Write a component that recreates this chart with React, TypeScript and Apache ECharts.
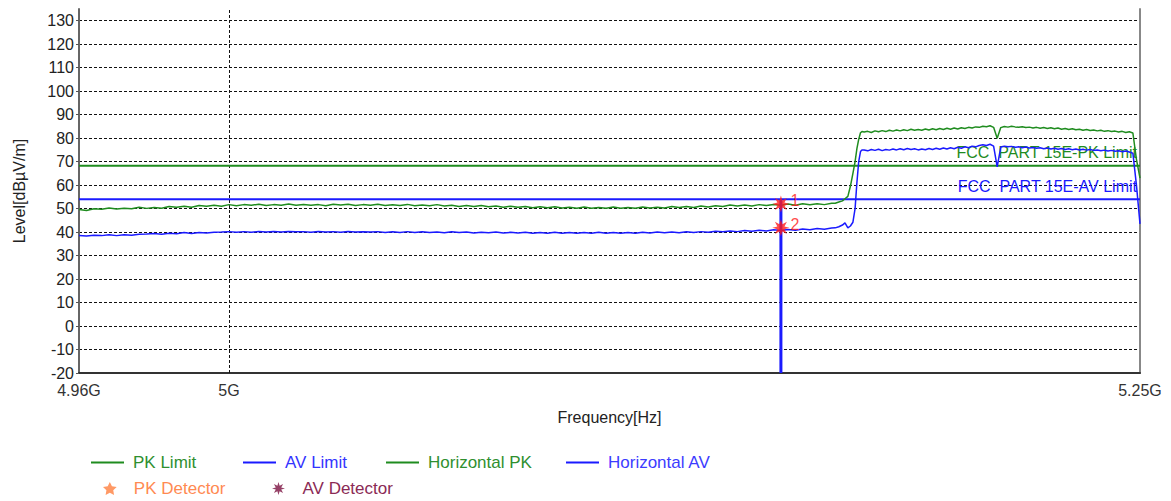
import React, { useEffect, useRef } from 'react';
import * as echarts from 'echarts';

// Frequencies in MHz shared by both measured traces
const freqMHz = [
  4960, 4962, 4964, 4966, 4968, 4970, 4972, 4974, 4976, 4978,
  4980, 4982, 4984, 4986, 4988, 4990, 4992, 4994, 4996, 4998,
  5000, 5002, 5004, 5006, 5008, 5010, 5012, 5014, 5016, 5018,
  5020, 5022, 5024, 5026, 5028, 5030, 5032, 5034, 5036, 5038,
  5040, 5042, 5044, 5046, 5048, 5050, 5052, 5054, 5056, 5058,
  5060, 5062, 5064, 5066, 5068, 5070, 5072, 5074, 5076, 5078,
  5080, 5082, 5084, 5086, 5088, 5090, 5092, 5094, 5096, 5098,
  5100, 5102, 5104, 5106, 5108, 5110, 5112, 5114, 5116, 5118,
  5120, 5122, 5124, 5126, 5128, 5130, 5132, 5134, 5136, 5138,
  5140, 5142, 5144, 5146, 5148, 5150, 5152, 5154, 5156, 5158,
  5160, 5162, 5164,
  5165, 5166, 5167, 5167.7, 5168.5, 5169.2, 5169.9, 5170.5, 5171, 5171.5, 5172, 5172.4,
  5173, 5174, 5175, 5176, 5177, 5178, 5179, 5180, 5181, 5182,
  5183, 5184, 5185, 5186, 5187, 5188, 5189, 5190, 5191, 5192,
  5193, 5194, 5195, 5196, 5197, 5198, 5199, 5200, 5201, 5202,
  5203, 5204, 5205, 5206, 5207, 5208, 5209, 5210, 5211, 5212,
  5213, 5214, 5215, 5216, 5217, 5218, 5219, 5220, 5221, 5222,
  5223, 5224, 5225, 5226, 5227, 5228, 5229, 5230, 5231, 5232,
  5233, 5234, 5235, 5236, 5237, 5238, 5239, 5240, 5241, 5242,
  5243, 5244, 5245, 5246, 5247, 5248, 5249, 5250,
];

const horizontalPK = [
  49.6, 49.2, 49.9, 49.7, 50.3, 49.8, 50.2, 49.9, 50.6, 50.1,
  50.5, 50.2, 50.9, 50.6, 51.0, 50.6, 51.3, 51.0, 51.4, 51.0,
  51.7, 51.2, 51.7, 51.4, 51.9, 51.3, 51.7, 51.4, 52.0, 51.4,
  51.8, 51.4, 51.7, 51.2, 51.9, 51.5, 51.9, 51.3, 51.7, 51.4,
  51.9, 51.3, 51.6, 51.3, 51.8, 51.2, 51.5, 51.2, 51.7, 51.1,
  51.4, 50.9, 51.3, 50.9, 51.3, 50.8, 51.1, 50.6, 51.0, 50.6,
  50.9, 50.4, 50.8, 50.4, 50.8, 50.3, 50.6, 50.2, 50.7, 50.2,
  50.5, 50.2, 50.7, 50.2, 50.5, 50.2, 50.7, 50.3, 50.6, 50.3,
  50.9, 50.5, 50.9, 50.5, 51.1, 50.7, 51.2, 50.9, 51.5, 51.1,
  51.5, 51.1, 51.7, 51.3, 51.8, 51.4, 52.0, 51.4, 52.1, 51.6,
  52.1, 51.7, 52.3,
  52.3, 52.8, 53.3, 54.2, 55.2, 59.5, 65.0, 70.0, 75.5, 79.5, 82.3, 82.8,
  82.6, 82.9, 82.4, 83.1, 82.7, 83.2, 82.8, 83.4, 83.0, 83.5,
  83.1, 83.6, 83.2, 83.8, 83.4, 83.7, 83.4, 83.9, 83.5, 84.0,
  83.6, 84.1, 83.7, 84.2, 83.8, 84.3, 83.9, 84.4, 84.1, 84.6,
  84.3, 84.8, 84.6, 85.1, 84.9, 85.3, 84.6, 80.0, 84.5, 85.0,
  84.7, 85.1, 84.8, 84.6, 84.9, 84.5, 84.7, 84.3, 84.6, 84.2,
  84.5, 84.1, 84.4, 84.0, 84.3, 83.8, 84.1, 83.7, 84.0, 83.6,
  83.8, 83.4, 83.7, 83.3, 83.5, 83.1, 83.4, 82.9, 83.2, 82.8,
  83.0, 82.6, 82.9, 82.4, 82.7, 82.2, 71.0, 63.0,
];

const horizontalAV = [
  38.6, 38.3, 38.7, 38.5, 38.9, 38.5, 38.9, 38.7, 39.1, 39.2,
  39.4, 39.1, 39.5, 39.3, 39.8, 39.4, 39.8, 39.6, 39.9, 40.0,
  40.2, 39.9, 40.2, 39.9, 40.3, 40.0, 40.3, 40.0, 40.3, 40.1,
  40.2, 39.9, 40.3, 40.0, 40.2, 39.9, 40.3, 40.0, 40.2, 40.0,
  40.2, 39.8, 40.1, 39.8, 40.2, 39.8, 40.1, 39.8, 40.0, 39.7,
  40.1, 39.8, 40.0, 39.6, 39.9, 39.7, 40.0, 39.6, 39.9, 39.6,
  39.9, 39.5, 39.8, 39.5, 39.9, 39.5, 39.8, 39.5, 39.8, 39.5,
  39.9, 39.5, 39.8, 39.5, 39.8, 39.5, 39.9, 39.6, 40.0, 39.7,
  40.0, 39.7, 40.1, 39.8, 40.2, 39.9, 40.4, 40.1, 40.5, 40.2,
  40.7, 40.4, 40.8, 40.5, 41.0, 40.7, 41.1, 40.8, 41.3, 41.0,
  41.5, 41.2, 41.7,
  41.8, 42.3, 43.0, 43.9, 41.8, 42.6, 44.2, 50.0, 61.0, 70.0, 74.3, 75.0,
  75.0, 74.6, 75.2, 74.8, 75.3, 74.7, 75.2, 74.9, 75.4, 75.0,
  75.5, 75.1, 75.6, 75.2, 75.5, 75.0, 75.4, 75.1, 75.6, 75.2,
  75.7, 75.3, 75.8, 75.4, 75.9, 75.5, 76.1, 75.7, 76.3, 75.9,
  76.6, 76.3, 76.9, 77.2, 76.9, 77.4, 76.6, 67.8, 76.2, 76.6,
  76.3, 76.5, 76.1, 76.3, 75.9, 76.2, 75.8, 76.0, 75.7, 75.9,
  75.5, 75.8, 75.4, 75.7, 75.3, 75.6, 75.2, 75.5, 75.1, 75.4,
  75.0, 75.3, 74.9, 75.2, 74.8, 75.0, 74.6, 74.9, 74.5, 74.8,
  74.4, 74.6, 74.2, 74.5, 74.1, 73.6, 60.0, 43.5,
];

const limitFreqMHz = [4960, 5250];
const pkLimit = [68.2, 68.2];
const avLimit = [54, 54];
const pkLimitLabel = 'FCC\u00a0\u00a0PART 15E-PK Limit';
const avLimitLabel = 'FCC\u00a0\u00a0PART 15E-AV Limit';

const markerFreqMHz = [5150];
const pkDetector = [52.0];
const avDetector = [41.8];
const markerLineLevels = [54, -20];

const xTickMHz = [4960, 5000, 5250];
const xTickLabels = ['4.96G', '5G', '5.25G'];
const gridLineMHz = [5000];
const yTicks = [-20, -10, 0, 10, 20, 30, 40, 50, 60, 70, 80, 90, 100, 110, 120, 130];

const GREEN = '#1f8c1f';
const BLUE = '#1a1aff';
const RED = '#ff1a1a';
const FONT = '"Liberation Sans", Arial, sans-serif';

const STAR8 =
  'path://M10,0L4.16,1.72L7.07,7.07L1.72,4.16L0,10L-1.72,4.16L-7.07,7.07L-4.16,1.72L-10,0L-4.16,-1.72L-7.07,-7.07L-1.72,-4.16L0,-10L1.72,-4.16L7.07,-7.07L4.16,-1.72Z';
const STAR5 =
  'path://M0,-10L2.94,-4.05L9.51,-3.09L4.76,1.55L5.88,8.09L0,5L-5.88,8.09L-4.76,1.55L-9.51,-3.09L-2.94,-4.05Z';

const lg = (f: number) => Math.log10(f);

function limitData(levels: number[], label: string, color: string) {
  return limitFreqMHz.map((f, i) => {
    const item: any = { value: [lg(f), levels[i]] };
    if (i === limitFreqMHz.length - 1) {
      item.label = {
        show: true,
        position: 'top',
        align: 'right',
        distance: 5,
        offset: [-3, 0],
        formatter: label,
        color,
        fontSize: 16,
        fontFamily: FONT,
      };
    }
    return item;
  });
}

export default function App() {
  const ref = useRef<HTMLDivElement>(null);

  useEffect(() => {
    if (!ref.current) return;
    const chart = echarts.init(ref.current, undefined, { renderer: 'svg' });

    const lineLegend = (name: string, left: number, color: string) => ({
      left,
      top: 454,
      padding: 0,
      itemGap: 0,
      itemWidth: 33,
      itemHeight: 2,
      icon: 'rect',
      selectedMode: false,
      textStyle: { fontSize: 17, fontFamily: FONT, color, padding: [0, 0, 0, 4] },
      data: [{ name }],
    });
    const starLegend = (name: string, left: number, icon: string, iconColor: string, color: string) => ({
      left,
      top: 480,
      padding: 0,
      itemGap: 0,
      itemWidth: 30,
      itemHeight: 13,
      selectedMode: false,
      textStyle: { fontSize: 17, fontFamily: FONT, color, padding: [0, 0, 0, 4] },
      data: [{ name, icon, itemStyle: { color: iconColor } }],
    });

    const option: any = {
      animation: false,
      backgroundColor: '#ffffff',
      textStyle: { fontFamily: FONT },
      grid: { left: 79, right: 31, top: 9, bottom: 128, containLabel: false, outerBoundsMode: 'none' },
      legend: [
        lineLegend('PK Limit', 91, '#2f8f2f'),
        lineLegend('AV Limit', 243, '#3434ff'),
        lineLegend('Horizontal PK', 386, '#2f8f2f'),
        lineLegend('Horizontal AV', 566, '#3c3cff'),
        starLegend('PK Detector', 103, STAR5, '#ff7f3f', '#ff8a52'),
        starLegend('AV Detector', 272, STAR8, '#7a1040', '#8b2a55'),
      ],
      xAxis: {
        type: 'value',
        min: lg(xTickMHz[0]),
        max: lg(xTickMHz[xTickMHz.length - 1]),
        name: 'Frequency[Hz]',
        nameLocation: 'middle',
        nameGap: 36,
        nameTextStyle: { fontSize: 16, color: '#222', fontFamily: FONT },
        axisLine: { show: true, onZero: false, lineStyle: { color: '#333', width: 2 } },
        axisTick: { show: false },
        axisLabel: {
          customValues: xTickMHz.map(lg),
          formatter: (v: number) => {
            const i = xTickMHz.findIndex((f) => Math.abs(lg(f) - v) < 1e-7);
            return i >= 0 ? xTickLabels[i] : '';
          },
          fontSize: 16,
          color: '#333',
          margin: 9,
          fontFamily: FONT,
        },
        splitLine: { show: false },
      },
      yAxis: [
        {
          type: 'value',
          min: -20,
          max: 135,
          interval: 10,
          name: 'Level[dBµV/m]',
          nameLocation: 'middle',
          nameGap: 52,
          nameTextStyle: { fontSize: 16, color: '#222', fontFamily: FONT },
          axisLine: { show: true, onZero: false, lineStyle: { color: '#666', width: 2 } },
          axisTick: { show: true, length: 3, customValues: yTicks, lineStyle: { color: '#555' } },
          axisLabel: {
            customValues: yTicks,
            fontSize: 16,
            color: '#222',
            margin: 5,
            fontFamily: FONT,
          },
          splitLine: {
            show: true,
            lineStyle: { color: '#111', type: [3, 2], width: 1 },
          },
        },
        {
          type: 'value',
          position: 'right',
          min: -20,
          max: 135,
          interval: 10,
          axisLine: { show: true, onZero: false, lineStyle: { color: '#888', width: 2 } },
          axisTick: { show: false },
          axisLabel: { show: false },
          splitLine: { show: false },
        },
      ],
      series: [
        {
          name: 'PK Limit',
          type: 'line',
          symbol: 'circle',
          symbolSize: 0,
          showSymbol: true,
          color: GREEN,
          lineStyle: { color: GREEN, width: 2 },
          data: limitData(pkLimit, pkLimitLabel, GREEN),
          z: 2,
        },
        {
          name: 'AV Limit',
          type: 'line',
          symbol: 'circle',
          symbolSize: 0,
          showSymbol: true,
          color: BLUE,
          lineStyle: { color: BLUE, width: 2 },
          data: limitData(avLimit, avLimitLabel, BLUE),
          z: 2,
        },
        {
          name: 'Horizontal PK',
          type: 'line',
          symbol: 'none',
          color: GREEN,
          lineStyle: { color: GREEN, width: 1.5 },
          data: freqMHz.map((f, i) => [lg(f), horizontalPK[i]]),
          markLine: {
            silent: true,
            precision: 10,
            symbol: ['none', 'none'],
            label: { show: false },
            lineStyle: { color: '#111', type: [3, 2], width: 1 },
            data: gridLineMHz.map((f) => ({ xAxis: lg(f) })),
            z: 1,
          },
          z: 3,
        },
        {
          name: 'Horizontal AV',
          type: 'line',
          symbol: 'none',
          color: BLUE,
          lineStyle: { color: BLUE, width: 1.5 },
          data: freqMHz.map((f, i) => [lg(f), horizontalAV[i]]),
          z: 3,
        },
        {
          name: 'Marker',
          type: 'line',
          symbol: 'none',
          color: BLUE,
          lineStyle: { color: BLUE, width: 3 },
          data: markerLineLevels.map((v) => [lg(markerFreqMHz[0]), v]),
          z: 4,
        },
        {
          name: 'PK Detector',
          type: 'scatter',
          symbol: STAR8,
          symbolSize: 17,
          itemStyle: { color: RED },
          label: {
            show: true,
            position: 'right',
            distance: 1,
            offset: [0, -3],
            formatter: '1',
            color: RED,
            fontSize: 16,
            fontFamily: FONT,
          },
          data: markerFreqMHz.map((f, i) => [lg(f), pkDetector[i]]),
          z: 5,
        },
        {
          name: 'AV Detector',
          type: 'scatter',
          symbol: STAR8,
          symbolSize: 17,
          itemStyle: { color: RED },
          label: {
            show: true,
            position: 'right',
            distance: 1,
            offset: [0, -3],
            formatter: '2',
            color: RED,
            fontSize: 16,
            fontFamily: FONT,
          },
          data: markerFreqMHz.map((f, i) => [lg(f), avDetector[i]]),
          z: 5,
        },
      ],
    };

    chart.setOption(option);
    return () => chart.dispose();
  }, []);

  return (
    <div
      ref={ref}
      style={{ position: 'absolute', left: 0, top: 0, width: 1171, height: 501, background: '#fff' }}
    />
  );
}
